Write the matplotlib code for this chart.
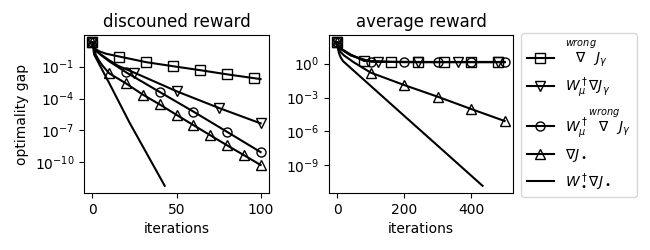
import numpy as np
import matplotlib
matplotlib.use("Agg")
import matplotlib.pyplot as plt

# ---------------- data (log10 of optimality gap) ----------------
titles = ["discouned reward", "average reward"]
labels = [r"$\overset{wrong}{\nabla}J_\gamma$",
          r"$W_\mu^\dagger\nabla J_\gamma$",
          r"$W_\mu^\dagger\overset{wrong}{\nabla}J_\gamma$",
          r"$\nabla J_\bullet$",
          r"$W_\bullet^\dagger\nabla J_\bullet$"]
markers = ["s", "v", "o", "^", None]

# discounted reward panel
d_sq_x = [0, 1, 2, 4, 8, 16, 32, 48, 64, 80, 96, 100]
d_sq_y = [1.3, 0.8, 0.65, 0.45, 0.22, -0.05, -0.58, -0.96, -1.33, -1.72, -2.08, -2.17]
d_td_x = [0, 1, 2, 5, 10, 15, 25, 50, 75, 100]
d_td_y = [1.3, 0.75, 0.55, 0.15, -0.4, -0.9, -1.57, -3.31, -4.87, -6.33]
d_ci_x = [0, 1, 2, 5, 10, 20, 40, 60, 80, 100]
d_ci_y = [1.3, 0.7, 0.5, 0.1, -0.5, -1.53, -3.38, -5.22, -7.12, -9.03]
d_tu_x = [0, 1, 2, 4, 6, 10, 20, 30, 40, 50, 60, 70, 80, 90, 100]
d_tu_y = [1.3, 0.85, 0.1, -0.45, -0.9, -1.63, -2.58, -3.63, -4.55, -5.53,
          -6.49, -7.44, -8.39, -9.31, -10.24]
d_ln_x = [0, 1, 2, 10, 22, 43]
d_ln_y = [1.3, 0.15, -0.15, -2.55, -6.24, -12.2]
d_steps = [16, 25, 20, 10, None]

# average reward panel
a_sq_x = [0, 2, 5, 10, 20, 40, 80, 160, 240, 320, 400, 480, 500]
a_sq_y = [1.9, 1.65, 1.5, 1.35, 1.15, 0.8, 0.25, 0.15, 0.14, 0.14, 0.14, 0.14, 0.14]
a_td_x = [0, 2, 5, 10, 20, 40, 80, 120, 240, 360, 480, 500]
a_td_y = [1.9, 1.65, 1.5, 1.35, 1.15, 0.78, 0.27, 0.17, 0.15, 0.15, 0.15, 0.15]
a_ci_x = [0, 2, 5, 10, 20, 40, 100, 200, 300, 400, 500]
a_ci_y = [1.9, 1.6, 1.45, 1.3, 1.1, 0.72, 0.18, 0.13, 0.13, 0.13, 0.13]
a_tu_x = [0, 2, 5, 10, 20, 50, 100, 200, 300, 400, 500]
a_tu_y = [1.9, 1.5, 1.25, 1.02, 0.72, 0.1, -0.8, -1.9, -2.93, -4.02, -5.08]
a_ln_x = [0, 2, 5, 10, 17, 100, 200, 300, 434]
a_ln_y = [1.9, 1.3, 0.9, 0.55, 0.22, -1.98, -4.63, -7.27, -10.82]
a_steps = [80, 120, 100, 100, None]

panels = [
    ([(d_sq_x, d_sq_y), (d_td_x, d_td_y), (d_ci_x, d_ci_y), (d_tu_x, d_tu_y), (d_ln_x, d_ln_y)],
     d_steps, [0, 50, 100], [-1, -4, -7, -10]),
    ([(a_sq_x, a_sq_y), (a_td_x, a_td_y), (a_ci_x, a_ci_y), (a_tu_x, a_tu_y), (a_ln_x, a_ln_y)],
     a_steps, [0, 200, 400], [0, -3, -6, -9]),
]

fig = plt.figure(figsize=(6.5, 2.5), dpi=100)
ax_rects = [[84 / 650, 57 / 250, 185 / 650, 158 / 250],
            [329 / 650, 57 / 250, 184 / 650, 158 / 250]]

handles = []
for p, (series, steps, xt, yt) in enumerate(panels):
    ax = fig.add_axes(ax_rects[p])
    ax.set_yscale("log")
    for i, (xs, ys) in enumerate(series):
        xs = np.asarray(xs)
        vals = 10.0 ** np.asarray(ys)
        kw = dict(color="black", lw=1.5)
        if markers[i] is not None:
            idx = [k for k, xv in enumerate(xs) if xv % steps[i] == 0]
            kw.update(marker=markers[i], markevery=idx, markerfacecolor="none",
                      markeredgecolor="black", markersize=6.5)
        h, = ax.plot(xs, vals, label=labels[i], **kw)
        if p == 0:
            handles.append(h)
    ax.set_xticks(xt)
    ax.set_yticks([10.0 ** e for e in yt])
    ax.yaxis.set_minor_locator(matplotlib.ticker.NullLocator())
    ax.set_title(titles[p], fontsize=12)
    ax.set_xlabel("iterations")
    if p == 0:
        ax.set_ylabel("optimality gap")

fig.legend(handles=handles, labels=labels, loc="upper left",
           bbox_to_anchor=(521 / 650, 1 - 33 / 250), borderaxespad=0,
           fontsize=10)

fig.savefig("out.png", dpi=100)
